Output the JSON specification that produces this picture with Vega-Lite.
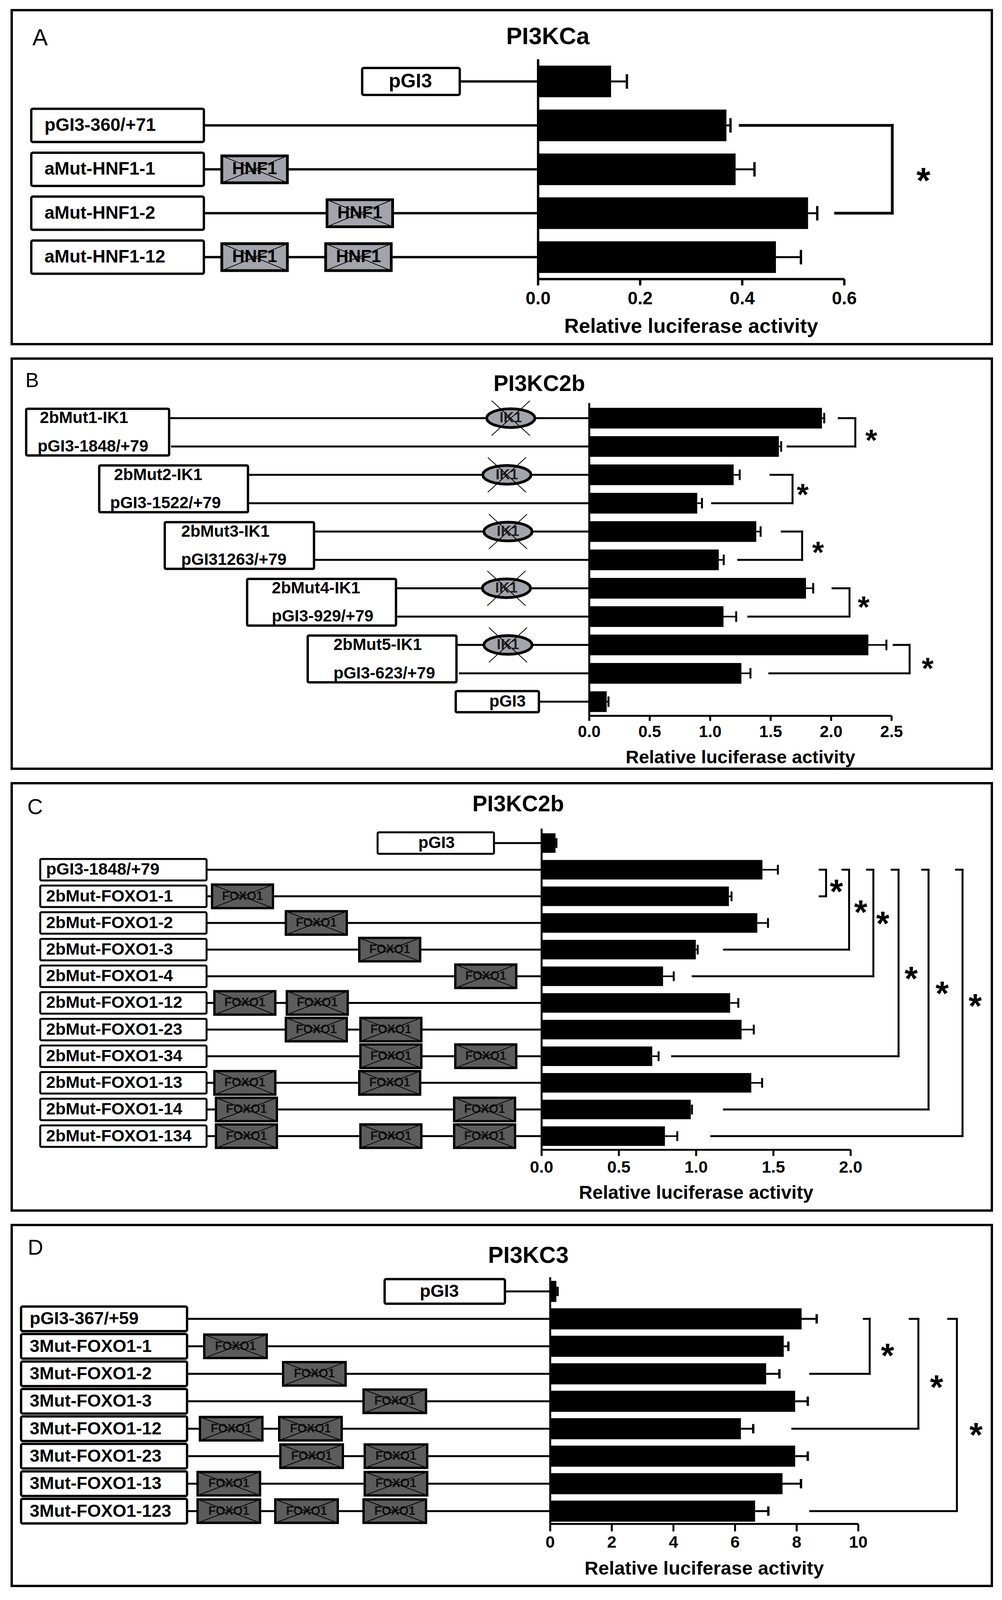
{
"$schema": "https://vega.github.io/schema/vega-lite/v6.json",
"background": "white",
"padding": {"left": 27, "top": 23, "right": 20, "bottom": 8},
"spacing": 31,
"config": {
  "view": {"stroke": "black", "strokeWidth": 6},
  "font": "Liberation Sans",
  "text": {"font": "Liberation Sans"}
},
"datasets": {
  "A_bars": [
    {"row": 1, "construct": "pGI3", "value": 0.143, "err_upper": 0.174},
    {"row": 2, "construct": "pGI3-360/+71", "value": 0.369, "err_upper": 0.377},
    {"row": 3, "construct": "aMut-HNF1-1", "value": 0.387, "err_upper": 0.424},
    {"row": 4, "construct": "aMut-HNF1-2", "value": 0.529, "err_upper": 0.547},
    {"row": 5, "construct": "aMut-HNF1-12", "value": 0.466, "err_upper": 0.515}
  ],
  "A_ticks": [{"tick": 0}, {"tick": 0.2}, {"tick": 0.4}, {"tick": 0.6}],
  "A_labels": [
    {"row": 1, "label": "pGI3", "box_start": -0.3447, "box_end": -0.1535, "text_x": -0.2502},
    {"row": 2, "label": "pGI3-360/+71", "box_start": -0.9931, "box_end": -0.6549, "text_x": -0.9671},
    {"row": 3, "label": "aMut-HNF1-1", "box_start": -0.9931, "box_end": -0.6549, "text_x": -0.9671},
    {"row": 4, "label": "aMut-HNF1-2", "box_start": -0.9931, "box_end": -0.6549, "text_x": -0.9671},
    {"row": 5, "label": "aMut-HNF1-12", "box_start": -0.9931, "box_end": -0.6549, "text_x": -0.9671}
  ],
  "A_sites": [
    {"row": 3, "site": "HNF1", "site_x": -0.5555},
    {"row": 4, "site": "HNF1", "site_x": -0.3493},
    {"row": 5, "site": "HNF1", "site_x": -0.5555},
    {"row": 5, "site": "HNF1", "site_x": -0.3520}
  ],
  "A_brackets": [
    {"top_row": 2, "bottom_row": 4, "top_start": 0.396, "bottom_start": 0.583, "bracket_x": 0.694}
  ],
  "A_stars": [{"star_x": 0.755, "star_row": 3.06}],
  "A_notes": [
    {"kind": "title", "note": "PI3KCa", "note_x": 0.0191, "note_row": -0.007},
    {"kind": "panel", "note": "A", "note_x": -0.9908, "note_row": 0.0143},
    {"kind": "axis title", "note": "Relative luciferase activity", "note_x": 0.3, "note_row": 6.579}
  ],
  "B_bars": [
    {"row": 1, "construct": "2bMut1-IK1", "value": 1.924, "err_upper": 1.943},
    {"row": 2, "construct": "pGI3-1848/+79", "value": 1.568, "err_upper": 1.587},
    {"row": 3, "construct": "2bMut2-IK1", "value": 1.194, "err_upper": 1.244},
    {"row": 4, "construct": "pGI3-1522/+79", "value": 0.893, "err_upper": 0.932},
    {"row": 5, "construct": "2bMut3-IK1", "value": 1.381, "err_upper": 1.417},
    {"row": 6, "construct": "pGI31263/+79", "value": 1.071, "err_upper": 1.112},
    {"row": 7, "construct": "2bMut4-IK1", "value": 1.792, "err_upper": 1.852},
    {"row": 8, "construct": "pGI3-929/+79", "value": 1.110, "err_upper": 1.215},
    {"row": 9, "construct": "2bMut5-IK1", "value": 2.308, "err_upper": 2.457},
    {"row": 10, "construct": "pGI3-623/+79", "value": 1.258, "err_upper": 1.333},
    {"row": 11, "construct": "pGI3", "value": 0.144, "err_upper": 0.159}
  ],
  "B_ticks": [{"tick": 0}, {"tick": 0.5}, {"tick": 1}, {"tick": 1.5}, {"tick": 2}, {"tick": 2.5}],
  "B_groups": [
    {"first_row": 1, "last_row": 2, "box_start": -4.656, "box_end": -3.474},
    {"first_row": 3, "last_row": 4, "box_start": -4.052, "box_end": -2.822},
    {"first_row": 5, "last_row": 6, "box_start": -3.510, "box_end": -2.276},
    {"first_row": 7, "last_row": 8, "box_start": -2.829, "box_end": -1.598},
    {"first_row": 9, "last_row": 10, "box_start": -2.328, "box_end": -1.098}
  ],
  "B_vector": [{"row": 11, "box_start": -1.104, "box_end": -0.4165}],
  "B_labels": [
    {"row": 1, "label": "2bMut1-IK1", "text_x": -4.543, "line_start": -3.474},
    {"row": 2, "label": "pGI3-1848/+79", "text_x": -4.562, "line_start": -3.458},
    {"row": 3, "label": "2bMut2-IK1", "text_x": -3.930, "line_start": -2.822},
    {"row": 4, "label": "pGI3-1522/+79", "text_x": -3.962, "line_start": -2.822},
    {"row": 5, "label": "2bMut3-IK1", "text_x": -3.374, "line_start": -2.276},
    {"row": 6, "label": "pGI31263/+79", "text_x": -3.374, "line_start": -2.276},
    {"row": 7, "label": "2bMut4-IK1", "text_x": -2.625, "line_start": -1.598},
    {"row": 8, "label": "pGI3-929/+79", "text_x": -2.625, "line_start": -1.598},
    {"row": 9, "label": "2bMut5-IK1", "text_x": -2.115, "line_start": -1.098},
    {"row": 10, "label": "pGI3-623/+79", "text_x": -2.115, "line_start": -1.078},
    {"row": 11, "label": "pGI3", "text_x": -0.8266, "line_start": -0.4165}
  ],
  "B_sites": [
    {"row": 1, "site": "IK1", "site_x": -0.649},
    {"row": 3, "site": "IK1", "site_x": -0.681},
    {"row": 5, "site": "IK1", "site_x": -0.672},
    {"row": 7, "site": "IK1", "site_x": -0.685},
    {"row": 9, "site": "IK1", "site_x": -0.672}
  ],
  "B_brackets": [
    {"top_row": 1, "bottom_row": 2, "top_start": 2.063, "bottom_start": 1.640, "bracket_x": 2.200},
    {"top_row": 3, "bottom_row": 4, "top_start": 1.499, "bottom_start": 1.016, "bracket_x": 1.681},
    {"top_row": 5, "bottom_row": 6, "top_start": 1.592, "bottom_start": 1.232, "bracket_x": 1.760},
    {"top_row": 7, "bottom_row": 8, "top_start": 2.012, "bottom_start": 1.316, "bracket_x": 2.152},
    {"top_row": 9, "bottom_row": 10, "top_start": 2.517, "bottom_start": 1.489, "bracket_x": 2.649}
  ],
  "B_stars": [
    {"star_x": 2.332, "star_row": 1.52},
    {"star_x": 1.765, "star_row": 3.43},
    {"star_x": 1.892, "star_row": 5.47},
    {"star_x": 2.269, "star_row": 7.40},
    {"star_x": 2.798, "star_row": 9.57}
  ],
  "B_notes": [
    {"kind": "title", "note": "PI3KC2b", "note_x": -0.4133, "note_row": -0.1876},
    {"kind": "panel", "note": "B", "note_x": -4.6626, "note_row": -0.321},
    {"kind": "axis title", "note": "Relative luciferase activity", "note_x": 1.25, "note_row": 12.987}
  ],
  "C_bars": [
    {"row": 1, "construct": "pGI3", "value": 0.090, "err_upper": 0.096},
    {"row": 2, "construct": "pGI3-1848/+79", "value": 1.429, "err_upper": 1.529},
    {"row": 3, "construct": "2bMut-FOXO1-1", "value": 1.212, "err_upper": 1.229},
    {"row": 4, "construct": "2bMut-FOXO1-2", "value": 1.396, "err_upper": 1.465},
    {"row": 5, "construct": "2bMut-FOXO1-3", "value": 0.998, "err_upper": 1.010},
    {"row": 6, "construct": "2bMut-FOXO1-4", "value": 0.786, "err_upper": 0.855},
    {"row": 7, "construct": "2bMut-FOXO1-12", "value": 1.220, "err_upper": 1.273},
    {"row": 8, "construct": "2bMut-FOXO1-23", "value": 1.294, "err_upper": 1.373},
    {"row": 9, "construct": "2bMut-FOXO1-34", "value": 0.716, "err_upper": 0.757},
    {"row": 10, "construct": "2bMut-FOXO1-13", "value": 1.357, "err_upper": 1.427},
    {"row": 11, "construct": "2bMut-FOXO1-14", "value": 0.965, "err_upper": 0.973},
    {"row": 12, "construct": "2bMut-FOXO1-134", "value": 0.798, "err_upper": 0.878}
  ],
  "C_ticks": [{"tick": 0}, {"tick": 0.5}, {"tick": 1}, {"tick": 1.5}, {"tick": 2}],
  "C_labels": [
    {"row": 1, "label": "pGI3", "box_start": -1.0614, "box_end": -0.3083, "text_x": -0.6798},
    {"row": 2, "label": "pGI3-1848/+79", "box_start": -3.2449, "box_end": -2.1683, "text_x": -3.207},
    {"row": 3, "label": "2bMut-FOXO1-1", "box_start": -3.2449, "box_end": -2.1683, "text_x": -3.207},
    {"row": 4, "label": "2bMut-FOXO1-2", "box_start": -3.2449, "box_end": -2.1683, "text_x": -3.207},
    {"row": 5, "label": "2bMut-FOXO1-3", "box_start": -3.2449, "box_end": -2.1683, "text_x": -3.207},
    {"row": 6, "label": "2bMut-FOXO1-4", "box_start": -3.2449, "box_end": -2.1683, "text_x": -3.207},
    {"row": 7, "label": "2bMut-FOXO1-12", "box_start": -3.2449, "box_end": -2.1683, "text_x": -3.207},
    {"row": 8, "label": "2bMut-FOXO1-23", "box_start": -3.2449, "box_end": -2.1683, "text_x": -3.207},
    {"row": 9, "label": "2bMut-FOXO1-34", "box_start": -3.2449, "box_end": -2.1683, "text_x": -3.207},
    {"row": 10, "label": "2bMut-FOXO1-13", "box_start": -3.2449, "box_end": -2.1683, "text_x": -3.207},
    {"row": 11, "label": "2bMut-FOXO1-14", "box_start": -3.2449, "box_end": -2.1683, "text_x": -3.207},
    {"row": 12, "label": "2bMut-FOXO1-134", "box_start": -3.2449, "box_end": -2.1683, "text_x": -3.207}
  ],
  "C_sites": [
    {"row": 3, "site": "FOXO1", "site_x": -1.9358},
    {"row": 4, "site": "FOXO1", "site_x": -1.4582},
    {"row": 5, "site": "FOXO1", "site_x": -0.9831},
    {"row": 6, "site": "FOXO1", "site_x": -0.3614},
    {"row": 7, "site": "FOXO1", "site_x": -1.9206},
    {"row": 7, "site": "FOXO1", "site_x": -1.4519},
    {"row": 8, "site": "FOXO1", "site_x": -1.4582},
    {"row": 8, "site": "FOXO1", "site_x": -0.9755},
    {"row": 9, "site": "FOXO1", "site_x": -0.9755},
    {"row": 9, "site": "FOXO1", "site_x": -0.3614},
    {"row": 10, "site": "FOXO1", "site_x": -1.9206},
    {"row": 10, "site": "FOXO1", "site_x": -0.9831},
    {"row": 11, "site": "FOXO1", "site_x": -1.9105},
    {"row": 11, "site": "FOXO1", "site_x": -0.369},
    {"row": 12, "site": "FOXO1", "site_x": -1.9105},
    {"row": 12, "site": "FOXO1", "site_x": -0.9755},
    {"row": 12, "site": "FOXO1", "site_x": -0.369}
  ],
  "C_brackets": [
    {"top_row": 2, "bottom_row": 3, "top_start": 1.800, "bottom_start": 1.800, "bracket_x": 1.841},
    {"top_row": 2, "bottom_row": 5, "top_start": 1.947, "bottom_start": 1.180, "bracket_x": 1.990},
    {"top_row": 2, "bottom_row": 6, "top_start": 2.106, "bottom_start": 0.978, "bracket_x": 2.147},
    {"top_row": 2, "bottom_row": 9, "top_start": 2.265, "bottom_start": 0.845, "bracket_x": 2.310},
    {"top_row": 2, "bottom_row": 11, "top_start": 2.463, "bottom_start": 1.180, "bracket_x": 2.504},
    {"top_row": 2, "bottom_row": 12, "top_start": 2.682, "bottom_start": 1.098, "bracket_x": 2.724}
  ],
  "C_stars": [
    {"star_x": 1.908, "star_row": 2.51},
    {"star_x": 2.065, "star_row": 3.28},
    {"star_x": 2.208, "star_row": 3.71},
    {"star_x": 2.392, "star_row": 5.77},
    {"star_x": 2.592, "star_row": 6.34},
    {"star_x": 2.806, "star_row": 6.80}
  ],
  "C_notes": [
    {"kind": "title", "note": "PI3KC2b", "note_x": -0.1516, "note_row": -0.4404},
    {"kind": "panel", "note": "C", "note_x": -3.3283, "note_row": -0.334},
    {"kind": "axis title", "note": "Relative luciferase activity", "note_x": 1.0, "note_row": 14.14}
  ],
  "D_bars": [
    {"row": 1, "construct": "pGI3", "value": 0.20, "err_upper": 0.24},
    {"row": 2, "construct": "pGI3-367/+59", "value": 8.16, "err_upper": 8.65},
    {"row": 3, "construct": "3Mut-FOXO1-1", "value": 7.58, "err_upper": 7.73},
    {"row": 4, "construct": "3Mut-FOXO1-2", "value": 7.01, "err_upper": 7.44},
    {"row": 5, "construct": "3Mut-FOXO1-3", "value": 7.95, "err_upper": 8.36},
    {"row": 6, "construct": "3Mut-FOXO1-12", "value": 6.19, "err_upper": 6.59},
    {"row": 7, "construct": "3Mut-FOXO1-23", "value": 7.95, "err_upper": 8.36},
    {"row": 8, "construct": "3Mut-FOXO1-13", "value": 7.54, "err_upper": 8.14},
    {"row": 9, "construct": "3Mut-FOXO1-123", "value": 6.65, "err_upper": 7.08}
  ],
  "D_ticks": [{"tick": 0}, {"tick": 2}, {"tick": 4}, {"tick": 6}, {"tick": 8}, {"tick": 10}],
  "D_labels": [
    {"row": 1, "label": "pGI3", "box_start": -5.374, "box_end": -1.470, "text_x": -3.600},
    {"row": 2, "label": "pGI3-367/+59", "box_start": -17.174, "box_end": -11.787, "text_x": -16.895},
    {"row": 3, "label": "3Mut-FOXO1-1", "box_start": -17.174, "box_end": -11.787, "text_x": -16.895},
    {"row": 4, "label": "3Mut-FOXO1-2", "box_start": -17.174, "box_end": -11.787, "text_x": -16.895},
    {"row": 5, "label": "3Mut-FOXO1-3", "box_start": -17.174, "box_end": -11.787, "text_x": -16.895},
    {"row": 6, "label": "3Mut-FOXO1-12", "box_start": -17.174, "box_end": -11.787, "text_x": -16.895},
    {"row": 7, "label": "3Mut-FOXO1-23", "box_start": -17.174, "box_end": -11.787, "text_x": -16.895},
    {"row": 8, "label": "3Mut-FOXO1-13", "box_start": -17.174, "box_end": -11.787, "text_x": -16.895},
    {"row": 9, "label": "3Mut-FOXO1-123", "box_start": -17.174, "box_end": -11.787, "text_x": -16.895}
  ],
  "D_sites": [
    {"row": 3, "site": "FOXO1", "site_x": -10.215},
    {"row": 4, "site": "FOXO1", "site_x": -7.655},
    {"row": 5, "site": "FOXO1", "site_x": -5.044},
    {"row": 6, "site": "FOXO1", "site_x": -10.355},
    {"row": 6, "site": "FOXO1", "site_x": -7.782},
    {"row": 7, "site": "FOXO1", "site_x": -7.744},
    {"row": 7, "site": "FOXO1", "site_x": -5.006},
    {"row": 8, "site": "FOXO1", "site_x": -10.431},
    {"row": 8, "site": "FOXO1", "site_x": -5.006},
    {"row": 9, "site": "FOXO1", "site_x": -10.431},
    {"row": 9, "site": "FOXO1", "site_x": -7.909},
    {"row": 9, "site": "FOXO1", "site_x": -5.044}
  ],
  "D_brackets": [
    {"top_row": 2, "bottom_row": 4, "top_start": 10.18, "bottom_start": 8.44, "bracket_x": 10.37},
    {"top_row": 2, "bottom_row": 6, "top_start": 11.67, "bottom_start": 7.86, "bracket_x": 11.95},
    {"top_row": 2, "bottom_row": 9, "top_start": 12.92, "bottom_start": 8.44, "bracket_x": 13.20}
  ],
  "D_stars": [
    {"star_x": 10.95, "star_row": 3.04},
    {"star_x": 12.54, "star_row": 4.19},
    {"star_x": 13.82, "star_row": 5.92}
  ],
  "D_notes": [
    {"kind": "title", "note": "PI3KC3", "note_x": -0.7098, "note_row": -0.293},
    {"kind": "panel", "note": "D", "note_x": -16.958, "note_row": -0.579},
    {"kind": "axis title", "note": "Relative luciferase activity", "note_x": 5, "note_row": 11.103}
  ]
},
"vconcat": [
{
  "width": 2510, "height": 855,
  "layer": [
    {"data": {"name": "A_labels"}, "mark": {"type": "rule", "strokeWidth": 6, "color": "black"},
     "encoding": {"x": {"field": "box_end", "type": "quantitative", "scale": {"domain": [-1.0314, 0.8891], "nice": false, "zero": false}, "axis": null}, "x2": {"datum": 0}, "y": {"field": "row", "type": "quantitative", "scale": {"domain": [-0.5786, 6.9357], "reverse": true, "nice": false, "zero": false}, "axis": null}}},
    {"data": {"name": "A_labels"}, "transform": [{"filter": "datum.label !== 'pGI3'"}], "mark": {"type": "bar", "orient": "horizontal", "size": 85, "fill": "white", "stroke": "black", "strokeWidth": 6, "cornerRadius": 4},
     "encoding": {"x": {"field": "box_start", "type": "quantitative", "scale": {"domain": [-1.0314, 0.8891], "nice": false, "zero": false}, "axis": null}, "x2": {"field": "box_end"}, "y": {"field": "row", "type": "quantitative", "scale": {"domain": [-0.5786, 6.9357], "reverse": true, "nice": false, "zero": false}, "axis": null}}},
    {"data": {"name": "A_labels"}, "transform": [{"filter": "datum.label === 'pGI3'"}], "mark": {"type": "bar", "orient": "horizontal", "size": 69, "fill": "white", "stroke": "black", "strokeWidth": 6, "cornerRadius": 4},
     "encoding": {"x": {"field": "box_start", "type": "quantitative", "scale": {"domain": [-1.0314, 0.8891], "nice": false, "zero": false}, "axis": null}, "x2": {"field": "box_end"}, "y": {"field": "row", "type": "quantitative", "scale": {"domain": [-0.5786, 6.9357], "reverse": true, "nice": false, "zero": false}, "axis": null}}},
    {"data": {"name": "A_labels"}, "transform": [{"filter": "datum.label !== 'pGI3'"}], "mark": {"type": "text", "align": "left", "baseline": "middle", "fontSize": 46, "fontWeight": "bold", "color": "black"},
     "encoding": {"x": {"field": "text_x", "type": "quantitative", "scale": {"domain": [-1.0314, 0.8891], "nice": false, "zero": false}, "axis": null}, "y": {"field": "row", "type": "quantitative", "scale": {"domain": [-0.5786, 6.9357], "reverse": true, "nice": false, "zero": false}, "axis": null}, "text": {"field": "label"}}},
    {"data": {"name": "A_labels"}, "transform": [{"filter": "datum.label === 'pGI3'"}], "mark": {"type": "text", "align": "center", "baseline": "middle", "fontSize": 50, "fontWeight": "bold", "color": "black"},
     "encoding": {"x": {"field": "text_x", "type": "quantitative", "scale": {"domain": [-1.0314, 0.8891], "nice": false, "zero": false}, "axis": null}, "y": {"field": "row", "type": "quantitative", "scale": {"domain": [-0.5786, 6.9357], "reverse": true, "nice": false, "zero": false}, "axis": null}, "text": {"field": "label"}}},
    {"data": {"name": "A_sites"}, "mark": {"type": "point", "shape": "M-1,-0.411L1,-0.411L1,0.411L-1,0.411Z", "size": 28224, "filled": true, "fill": "#a4a4ac", "stroke": "black", "strokeWidth": 7, "opacity": 1},
     "encoding": {"x": {"field": "site_x", "type": "quantitative", "scale": {"domain": [-1.0314, 0.8891], "nice": false, "zero": false}, "axis": null}, "y": {"field": "row", "type": "quantitative", "scale": {"domain": [-0.5786, 6.9357], "reverse": true, "nice": false, "zero": false}, "axis": null}}},
    {"data": {"name": "A_sites"}, "mark": {"type": "text", "align": "center", "baseline": "middle", "fontSize": 44, "fontWeight": "bold", "color": "black"},
     "encoding": {"x": {"field": "site_x", "type": "quantitative", "scale": {"domain": [-1.0314, 0.8891], "nice": false, "zero": false}, "axis": null}, "y": {"field": "row", "type": "quantitative", "scale": {"domain": [-0.5786, 6.9357], "reverse": true, "nice": false, "zero": false}, "axis": null}, "text": {"field": "site"}}},
    {"data": {"name": "A_sites"}, "mark": {"type": "point", "shape": "M-1,-0.411L1,0.411M-1,0.411L1,-0.411", "size": 28224, "filled": false, "stroke": "black", "strokeWidth": 2, "opacity": 1},
     "encoding": {"x": {"field": "site_x", "type": "quantitative", "scale": {"domain": [-1.0314, 0.8891], "nice": false, "zero": false}, "axis": null}, "y": {"field": "row", "type": "quantitative", "scale": {"domain": [-0.5786, 6.9357], "reverse": true, "nice": false, "zero": false}, "axis": null}}},
    {"data": {"values": [{}]}, "mark": {"type": "rule", "strokeWidth": 6, "color": "black"},
     "encoding": {"x": {"datum": 0, "type": "quantitative", "scale": {"domain": [-1.0314, 0.8891], "nice": false, "zero": false}, "axis": null}, "y": {"datum": 0.493, "type": "quantitative", "scale": {"domain": [-0.5786, 6.9357], "reverse": true, "nice": false, "zero": false}, "axis": null}, "y2": {"datum": 5.5}}},
    {"data": {"values": [{}]}, "mark": {"type": "rule", "strokeWidth": 6, "color": "black"},
     "encoding": {"x": {"datum": 0, "type": "quantitative", "scale": {"domain": [-1.0314, 0.8891], "nice": false, "zero": false}, "axis": null}, "x2": {"datum": 0.6}, "y": {"datum": 5.5, "type": "quantitative", "scale": {"domain": [-0.5786, 6.9357], "reverse": true, "nice": false, "zero": false}, "axis": null}}},
    {"data": {"name": "A_ticks"}, "mark": {"type": "tick", "orient": "vertical", "size": 16, "thickness": 6, "yOffset": 8, "color": "black", "opacity": 1},
     "encoding": {"x": {"field": "tick", "type": "quantitative", "scale": {"domain": [-1.0314, 0.8891], "nice": false, "zero": false}, "axis": null}, "y": {"datum": 5.5, "type": "quantitative", "scale": {"domain": [-0.5786, 6.9357], "reverse": true, "nice": false, "zero": false}, "axis": null}}},
    {"data": {"name": "A_ticks"}, "mark": {"type": "text", "align": "center", "baseline": "middle", "dy": 50, "fontSize": 46, "fontWeight": "bold", "color": "black"},
     "encoding": {"x": {"field": "tick", "type": "quantitative", "scale": {"domain": [-1.0314, 0.8891], "nice": false, "zero": false}, "axis": null}, "y": {"datum": 5.5, "type": "quantitative", "scale": {"domain": [-0.5786, 6.9357], "reverse": true, "nice": false, "zero": false}, "axis": null}, "text": {"field": "tick", "type": "quantitative", "format": ".1f"}}},
    {"data": {"name": "A_bars"}, "mark": {"type": "bar", "orient": "horizontal", "size": 81, "color": "black"},
     "encoding": {"x": {"field": "value", "type": "quantitative", "stack": null, "scale": {"domain": [-1.0314, 0.8891], "nice": false, "zero": false}, "axis": null}, "y": {"field": "row", "type": "quantitative", "scale": {"domain": [-0.5786, 6.9357], "reverse": true, "nice": false, "zero": false}, "axis": null}}},
    {"data": {"name": "A_bars"}, "mark": {"type": "rule", "strokeWidth": 5, "color": "black"},
     "encoding": {"x": {"field": "value", "type": "quantitative", "scale": {"domain": [-1.0314, 0.8891], "nice": false, "zero": false}, "axis": null}, "x2": {"field": "err_upper"}, "y": {"field": "row", "type": "quantitative", "scale": {"domain": [-0.5786, 6.9357], "reverse": true, "nice": false, "zero": false}, "axis": null}}},
    {"data": {"name": "A_bars"}, "mark": {"type": "tick", "orient": "vertical", "size": 37, "thickness": 6, "color": "black", "opacity": 1},
     "encoding": {"x": {"field": "err_upper", "type": "quantitative", "scale": {"domain": [-1.0314, 0.8891], "nice": false, "zero": false}, "axis": null}, "y": {"field": "row", "type": "quantitative", "scale": {"domain": [-0.5786, 6.9357], "reverse": true, "nice": false, "zero": false}, "axis": null}}},
    {"data": {"name": "A_brackets"}, "mark": {"type": "rule", "strokeWidth": 7, "color": "black", "strokeCap": "square"},
     "encoding": {"x": {"field": "top_start", "type": "quantitative", "scale": {"domain": [-1.0314, 0.8891], "nice": false, "zero": false}, "axis": null}, "x2": {"field": "bracket_x"}, "y": {"field": "top_row", "type": "quantitative", "scale": {"domain": [-0.5786, 6.9357], "reverse": true, "nice": false, "zero": false}, "axis": null}}},
    {"data": {"name": "A_brackets"}, "mark": {"type": "rule", "strokeWidth": 7, "color": "black", "strokeCap": "square"},
     "encoding": {"x": {"field": "bracket_x", "type": "quantitative", "scale": {"domain": [-1.0314, 0.8891], "nice": false, "zero": false}, "axis": null}, "y": {"field": "top_row", "type": "quantitative", "scale": {"domain": [-0.5786, 6.9357], "reverse": true, "nice": false, "zero": false}, "axis": null}, "y2": {"field": "bottom_row"}}},
    {"data": {"name": "A_brackets"}, "mark": {"type": "rule", "strokeWidth": 7, "color": "black", "strokeCap": "square"},
     "encoding": {"x": {"field": "bottom_start", "type": "quantitative", "scale": {"domain": [-1.0314, 0.8891], "nice": false, "zero": false}, "axis": null}, "x2": {"field": "bracket_x"}, "y": {"field": "bottom_row", "type": "quantitative", "scale": {"domain": [-0.5786, 6.9357], "reverse": true, "nice": false, "zero": false}, "axis": null}}},
    {"data": {"name": "A_stars"}, "mark": {"type": "text", "text": "*", "align": "center", "baseline": "alphabetic", "dy": 54, "fontSize": 92, "fontWeight": "bold", "color": "black"},
     "encoding": {"x": {"field": "star_x", "type": "quantitative", "scale": {"domain": [-1.0314, 0.8891], "nice": false, "zero": false}, "axis": null}, "y": {"field": "star_row", "type": "quantitative", "scale": {"domain": [-0.5786, 6.9357], "reverse": true, "nice": false, "zero": false}, "axis": null}}},
    {"data": {"name": "A_notes"}, "transform": [{"filter": "datum.kind === 'title'"}], "mark": {"type": "text", "align": "center", "baseline": "middle", "fontSize": 61, "fontWeight": "bold", "color": "black"},
     "encoding": {"x": {"field": "note_x", "type": "quantitative", "scale": {"domain": [-1.0314, 0.8891], "nice": false, "zero": false}, "axis": null}, "y": {"field": "note_row", "type": "quantitative", "scale": {"domain": [-0.5786, 6.9357], "reverse": true, "nice": false, "zero": false}, "axis": null}, "text": {"field": "note"}}},
    {"data": {"name": "A_notes"}, "transform": [{"filter": "datum.kind === 'panel'"}], "mark": {"type": "text", "align": "left", "baseline": "middle", "fontSize": 59, "fontWeight": "normal", "color": "black"},
     "encoding": {"x": {"field": "note_x", "type": "quantitative", "scale": {"domain": [-1.0314, 0.8891], "nice": false, "zero": false}, "axis": null}, "y": {"field": "note_row", "type": "quantitative", "scale": {"domain": [-0.5786, 6.9357], "reverse": true, "nice": false, "zero": false}, "axis": null}, "text": {"field": "note"}}},
    {"data": {"name": "A_notes"}, "transform": [{"filter": "datum.kind === 'axis title'"}], "mark": {"type": "text", "align": "center", "baseline": "middle", "fontSize": 52, "fontWeight": "bold", "color": "black"},
     "encoding": {"x": {"field": "note_x", "type": "quantitative", "scale": {"domain": [-1.0314, 0.8891], "nice": false, "zero": false}, "axis": null}, "y": {"field": "note_row", "type": "quantitative", "scale": {"domain": [-0.5786, 6.9357], "reverse": true, "nice": false, "zero": false}, "axis": null}, "text": {"field": "note"}}}
  ]
},
{
  "width": 2510, "height": 1050,
  "layer": [
    {"data": {"name": "B_labels"}, "mark": {"type": "rule", "strokeWidth": 5, "color": "black"},
     "encoding": {"x": {"field": "line_start", "type": "quantitative", "scale": {"domain": [-4.7756, 3.329], "nice": false, "zero": false}, "axis": null}, "x2": {"datum": 0}, "y": {"field": "row", "type": "quantitative", "scale": {"domain": [-1.0311, 13.2975], "reverse": true, "nice": false, "zero": false}, "axis": null}}},
    {"data": {"name": "B_groups"}, "mark": {"type": "rect", "fill": "white", "stroke": "black", "strokeWidth": 6, "cornerRadius": 3, "yOffset": -24, "y2Offset": 23},
     "encoding": {"x": {"field": "box_start", "type": "quantitative", "scale": {"domain": [-4.7756, 3.329], "nice": false, "zero": false}, "axis": null}, "x2": {"field": "box_end"}, "y": {"field": "first_row", "type": "quantitative", "scale": {"domain": [-1.0311, 13.2975], "reverse": true, "nice": false, "zero": false}, "axis": null}, "y2": {"field": "last_row"}}},
    {"data": {"name": "B_vector"}, "mark": {"type": "bar", "orient": "horizontal", "size": 54, "fill": "white", "stroke": "black", "strokeWidth": 6, "cornerRadius": 3},
     "encoding": {"x": {"field": "box_start", "type": "quantitative", "scale": {"domain": [-4.7756, 3.329], "nice": false, "zero": false}, "axis": null}, "x2": {"field": "box_end"}, "y": {"field": "row", "type": "quantitative", "scale": {"domain": [-1.0311, 13.2975], "reverse": true, "nice": false, "zero": false}, "axis": null}}},
    {"data": {"name": "B_labels"}, "mark": {"type": "text", "align": "left", "baseline": "middle", "fontSize": 42, "fontWeight": "bold", "color": "black"},
     "encoding": {"x": {"field": "text_x", "type": "quantitative", "scale": {"domain": [-4.7756, 3.329], "nice": false, "zero": false}, "axis": null}, "y": {"field": "row", "type": "quantitative", "scale": {"domain": [-1.0311, 13.2975], "reverse": true, "nice": false, "zero": false}, "axis": null}, "text": {"field": "label"}}},
    {"data": {"name": "B_sites"}, "mark": {"type": "point", "shape": "M1,0L0.966,0.1L0.866,0.194L0.707,0.274L0.5,0.335L0.259,0.374L0,0.387L-0.259,0.374L-0.5,0.335L-0.707,0.274L-0.866,0.194L-0.966,0.1L-1,0L-0.966,-0.1L-0.866,-0.194L-0.707,-0.274L-0.5,-0.335L-0.259,-0.374L0,-0.387L0.259,-0.374L0.5,-0.335L0.707,-0.274L0.866,-0.194L0.966,-0.1Z", "size": 15376, "filled": true, "fill": "#a4a4ac", "stroke": "black", "strokeWidth": 7, "opacity": 1},
     "encoding": {"x": {"field": "site_x", "type": "quantitative", "scale": {"domain": [-4.7756, 3.329], "nice": false, "zero": false}, "axis": null}, "y": {"field": "row", "type": "quantitative", "scale": {"domain": [-1.0311, 13.2975], "reverse": true, "nice": false, "zero": false}, "axis": null}}},
    {"data": {"name": "B_sites"}, "mark": {"type": "text", "align": "center", "baseline": "middle", "fontSize": 37, "fontWeight": "bold", "color": "#222222"},
     "encoding": {"x": {"field": "site_x", "type": "quantitative", "scale": {"domain": [-4.7756, 3.329], "nice": false, "zero": false}, "axis": null}, "y": {"field": "row", "type": "quantitative", "scale": {"domain": [-1.0311, 13.2975], "reverse": true, "nice": false, "zero": false}, "axis": null}, "text": {"field": "site"}}},
    {"data": {"name": "B_sites"}, "mark": {"type": "point", "shape": "M-1,-0.908L1,0.908M-1,0.908L1,-0.908", "size": 9604, "filled": false, "stroke": "black", "strokeWidth": 2, "opacity": 1},
     "encoding": {"x": {"field": "site_x", "type": "quantitative", "scale": {"domain": [-4.7756, 3.329], "nice": false, "zero": false}, "axis": null}, "y": {"field": "row", "type": "quantitative", "scale": {"domain": [-1.0311, 13.2975], "reverse": true, "nice": false, "zero": false}, "axis": null}}},
    {"data": {"values": [{}]}, "mark": {"type": "rule", "strokeWidth": 5, "color": "black"},
     "encoding": {"x": {"datum": 0, "type": "quantitative", "scale": {"domain": [-4.7756, 3.329], "nice": false, "zero": false}, "axis": null}, "y": {"datum": 0.4673, "type": "quantitative", "scale": {"domain": [-1.0311, 13.2975], "reverse": true, "nice": false, "zero": false}, "axis": null}, "y2": {"datum": 11.4994}}},
    {"data": {"values": [{}]}, "mark": {"type": "rule", "strokeWidth": 5, "color": "black"},
     "encoding": {"x": {"datum": 0, "type": "quantitative", "scale": {"domain": [-4.7756, 3.329], "nice": false, "zero": false}, "axis": null}, "x2": {"datum": 2.5}, "y": {"datum": 11.4994, "type": "quantitative", "scale": {"domain": [-1.0311, 13.2975], "reverse": true, "nice": false, "zero": false}, "axis": null}}},
    {"data": {"name": "B_ticks"}, "mark": {"type": "tick", "orient": "vertical", "size": 13, "thickness": 5, "yOffset": 6.5, "color": "black", "opacity": 1},
     "encoding": {"x": {"field": "tick", "type": "quantitative", "scale": {"domain": [-4.7756, 3.329], "nice": false, "zero": false}, "axis": null}, "y": {"datum": 11.4994, "type": "quantitative", "scale": {"domain": [-1.0311, 13.2975], "reverse": true, "nice": false, "zero": false}, "axis": null}}},
    {"data": {"name": "B_ticks"}, "mark": {"type": "text", "align": "center", "baseline": "middle", "dy": 42, "fontSize": 42, "fontWeight": "bold", "color": "black"},
     "encoding": {"x": {"field": "tick", "type": "quantitative", "scale": {"domain": [-4.7756, 3.329], "nice": false, "zero": false}, "axis": null}, "y": {"datum": 11.4994, "type": "quantitative", "scale": {"domain": [-1.0311, 13.2975], "reverse": true, "nice": false, "zero": false}, "axis": null}, "text": {"field": "tick", "type": "quantitative", "format": ".1f"}}},
    {"data": {"name": "B_bars"}, "mark": {"type": "bar", "orient": "horizontal", "size": 53, "color": "black"},
     "encoding": {"x": {"field": "value", "type": "quantitative", "stack": null, "scale": {"domain": [-4.7756, 3.329], "nice": false, "zero": false}, "axis": null}, "y": {"field": "row", "type": "quantitative", "scale": {"domain": [-1.0311, 13.2975], "reverse": true, "nice": false, "zero": false}, "axis": null}}},
    {"data": {"name": "B_bars"}, "mark": {"type": "rule", "strokeWidth": 4, "color": "black"},
     "encoding": {"x": {"field": "value", "type": "quantitative", "scale": {"domain": [-4.7756, 3.329], "nice": false, "zero": false}, "axis": null}, "x2": {"field": "err_upper"}, "y": {"field": "row", "type": "quantitative", "scale": {"domain": [-1.0311, 13.2975], "reverse": true, "nice": false, "zero": false}, "axis": null}}},
    {"data": {"name": "B_bars"}, "mark": {"type": "tick", "orient": "vertical", "size": 27, "thickness": 5, "color": "black", "opacity": 1},
     "encoding": {"x": {"field": "err_upper", "type": "quantitative", "scale": {"domain": [-4.7756, 3.329], "nice": false, "zero": false}, "axis": null}, "y": {"field": "row", "type": "quantitative", "scale": {"domain": [-1.0311, 13.2975], "reverse": true, "nice": false, "zero": false}, "axis": null}}},
    {"data": {"name": "B_brackets"}, "mark": {"type": "rule", "strokeWidth": 5, "color": "black", "strokeCap": "square"},
     "encoding": {"x": {"field": "top_start", "type": "quantitative", "scale": {"domain": [-4.7756, 3.329], "nice": false, "zero": false}, "axis": null}, "x2": {"field": "bracket_x"}, "y": {"field": "top_row", "type": "quantitative", "scale": {"domain": [-1.0311, 13.2975], "reverse": true, "nice": false, "zero": false}, "axis": null}}},
    {"data": {"name": "B_brackets"}, "mark": {"type": "rule", "strokeWidth": 5, "color": "black", "strokeCap": "square"},
     "encoding": {"x": {"field": "bracket_x", "type": "quantitative", "scale": {"domain": [-4.7756, 3.329], "nice": false, "zero": false}, "axis": null}, "y": {"field": "top_row", "type": "quantitative", "scale": {"domain": [-1.0311, 13.2975], "reverse": true, "nice": false, "zero": false}, "axis": null}, "y2": {"field": "bottom_row"}}},
    {"data": {"name": "B_brackets"}, "mark": {"type": "rule", "strokeWidth": 5, "color": "black", "strokeCap": "square"},
     "encoding": {"x": {"field": "bottom_start", "type": "quantitative", "scale": {"domain": [-4.7756, 3.329], "nice": false, "zero": false}, "axis": null}, "x2": {"field": "bracket_x"}, "y": {"field": "bottom_row", "type": "quantitative", "scale": {"domain": [-1.0311, 13.2975], "reverse": true, "nice": false, "zero": false}, "axis": null}}},
    {"data": {"name": "B_stars"}, "mark": {"type": "text", "text": "*", "align": "center", "baseline": "alphabetic", "dy": 46, "fontSize": 78, "fontWeight": "bold", "color": "black"},
     "encoding": {"x": {"field": "star_x", "type": "quantitative", "scale": {"domain": [-4.7756, 3.329], "nice": false, "zero": false}, "axis": null}, "y": {"field": "star_row", "type": "quantitative", "scale": {"domain": [-1.0311, 13.2975], "reverse": true, "nice": false, "zero": false}, "axis": null}}},
    {"data": {"name": "B_notes"}, "transform": [{"filter": "datum.kind === 'title'"}], "mark": {"type": "text", "align": "center", "baseline": "middle", "fontSize": 57, "fontWeight": "bold", "color": "black"},
     "encoding": {"x": {"field": "note_x", "type": "quantitative", "scale": {"domain": [-4.7756, 3.329], "nice": false, "zero": false}, "axis": null}, "y": {"field": "note_row", "type": "quantitative", "scale": {"domain": [-1.0311, 13.2975], "reverse": true, "nice": false, "zero": false}, "axis": null}, "text": {"field": "note"}}},
    {"data": {"name": "B_notes"}, "transform": [{"filter": "datum.kind === 'panel'"}], "mark": {"type": "text", "align": "left", "baseline": "middle", "fontSize": 52, "fontWeight": "normal", "color": "black"},
     "encoding": {"x": {"field": "note_x", "type": "quantitative", "scale": {"domain": [-4.7756, 3.329], "nice": false, "zero": false}, "axis": null}, "y": {"field": "note_row", "type": "quantitative", "scale": {"domain": [-1.0311, 13.2975], "reverse": true, "nice": false, "zero": false}, "axis": null}, "text": {"field": "note"}}},
    {"data": {"name": "B_notes"}, "transform": [{"filter": "datum.kind === 'axis title'"}], "mark": {"type": "text", "align": "center", "baseline": "middle", "fontSize": 47, "fontWeight": "bold", "color": "black"},
     "encoding": {"x": {"field": "note_x", "type": "quantitative", "scale": {"domain": [-4.7756, 3.329], "nice": false, "zero": false}, "axis": null}, "y": {"field": "note_row", "type": "quantitative", "scale": {"domain": [-1.0311, 13.2975], "reverse": true, "nice": false, "zero": false}, "axis": null}, "text": {"field": "note"}}}
  ]
},
{
  "width": 2510, "height": 1094,
  "layer": [
    {"data": {"name": "C_labels"}, "mark": {"type": "rule", "strokeWidth": 5, "color": "black"},
     "encoding": {"x": {"field": "box_end", "type": "quantitative", "scale": {"domain": [-3.4294, 2.9138], "nice": false, "zero": false}, "axis": null}, "x2": {"datum": 0}, "y": {"field": "row", "type": "quantitative", "scale": {"domain": [-1.1724, 14.719], "reverse": true, "nice": false, "zero": false}, "axis": null}}},
    {"data": {"name": "C_labels"}, "mark": {"type": "bar", "orient": "horizontal", "size": 55, "fill": "white", "stroke": "black", "strokeWidth": 5, "cornerRadius": 3},
     "encoding": {"x": {"field": "box_start", "type": "quantitative", "scale": {"domain": [-3.4294, 2.9138], "nice": false, "zero": false}, "axis": null}, "x2": {"field": "box_end"}, "y": {"field": "row", "type": "quantitative", "scale": {"domain": [-1.1724, 14.719], "reverse": true, "nice": false, "zero": false}, "axis": null}}},
    {"data": {"name": "C_labels"}, "transform": [{"filter": "datum.label !== 'pGI3'"}], "mark": {"type": "text", "align": "left", "baseline": "middle", "fontSize": 43, "fontWeight": "bold", "color": "black"},
     "encoding": {"x": {"field": "text_x", "type": "quantitative", "scale": {"domain": [-3.4294, 2.9138], "nice": false, "zero": false}, "axis": null}, "y": {"field": "row", "type": "quantitative", "scale": {"domain": [-1.1724, 14.719], "reverse": true, "nice": false, "zero": false}, "axis": null}, "text": {"field": "label"}}},
    {"data": {"name": "C_labels"}, "transform": [{"filter": "datum.label === 'pGI3'"}], "mark": {"type": "text", "align": "center", "baseline": "middle", "fontSize": 42, "fontWeight": "bold", "color": "black"},
     "encoding": {"x": {"field": "text_x", "type": "quantitative", "scale": {"domain": [-3.4294, 2.9138], "nice": false, "zero": false}, "axis": null}, "y": {"field": "row", "type": "quantitative", "scale": {"domain": [-1.1724, 14.719], "reverse": true, "nice": false, "zero": false}, "axis": null}, "text": {"field": "label"}}},
    {"data": {"name": "C_sites"}, "mark": {"type": "point", "shape": "M-1,-0.385L1,-0.385L1,0.385L-1,0.385Z", "size": 24336, "filled": true, "fill": "#5c5c5c", "stroke": "black", "strokeWidth": 6, "opacity": 1},
     "encoding": {"x": {"field": "site_x", "type": "quantitative", "scale": {"domain": [-3.4294, 2.9138], "nice": false, "zero": false}, "axis": null}, "y": {"field": "row", "type": "quantitative", "scale": {"domain": [-1.1724, 14.719], "reverse": true, "nice": false, "zero": false}, "axis": null}}},
    {"data": {"name": "C_sites"}, "mark": {"type": "text", "align": "center", "baseline": "middle", "fontSize": 31, "fontWeight": "bold", "color": "#111111"},
     "encoding": {"x": {"field": "site_x", "type": "quantitative", "scale": {"domain": [-3.4294, 2.9138], "nice": false, "zero": false}, "axis": null}, "y": {"field": "row", "type": "quantitative", "scale": {"domain": [-1.1724, 14.719], "reverse": true, "nice": false, "zero": false}, "axis": null}, "text": {"field": "site"}}},
    {"data": {"name": "C_sites"}, "mark": {"type": "point", "shape": "M-1,-0.385L1,0.385M-1,0.385L1,-0.385", "size": 24336, "filled": false, "stroke": "black", "strokeWidth": 2, "opacity": 1},
     "encoding": {"x": {"field": "site_x", "type": "quantitative", "scale": {"domain": [-3.4294, 2.9138], "nice": false, "zero": false}, "axis": null}, "y": {"field": "row", "type": "quantitative", "scale": {"domain": [-1.1724, 14.719], "reverse": true, "nice": false, "zero": false}, "axis": null}}},
    {"data": {"values": [{}]}, "mark": {"type": "rule", "strokeWidth": 5, "color": "black"},
     "encoding": {"x": {"datum": 0, "type": "quantitative", "scale": {"domain": [-3.4294, 2.9138], "nice": false, "zero": false}, "axis": null}, "y": {"datum": 0.457, "type": "quantitative", "scale": {"domain": [-1.1724, 14.719], "reverse": true, "nice": false, "zero": false}, "axis": null}, "y2": {"datum": 12.511}}},
    {"data": {"values": [{}]}, "mark": {"type": "rule", "strokeWidth": 5, "color": "black"},
     "encoding": {"x": {"datum": 0, "type": "quantitative", "scale": {"domain": [-3.4294, 2.9138], "nice": false, "zero": false}, "axis": null}, "x2": {"datum": 2.0}, "y": {"datum": 12.511, "type": "quantitative", "scale": {"domain": [-1.1724, 14.719], "reverse": true, "nice": false, "zero": false}, "axis": null}}},
    {"data": {"name": "C_ticks"}, "mark": {"type": "tick", "orient": "vertical", "size": 16, "thickness": 5, "yOffset": 8, "color": "black", "opacity": 1},
     "encoding": {"x": {"field": "tick", "type": "quantitative", "scale": {"domain": [-3.4294, 2.9138], "nice": false, "zero": false}, "axis": null}, "y": {"datum": 12.511, "type": "quantitative", "scale": {"domain": [-1.1724, 14.719], "reverse": true, "nice": false, "zero": false}, "axis": null}}},
    {"data": {"name": "C_ticks"}, "mark": {"type": "text", "align": "center", "baseline": "middle", "dy": 46, "fontSize": 43, "fontWeight": "bold", "color": "black"},
     "encoding": {"x": {"field": "tick", "type": "quantitative", "scale": {"domain": [-3.4294, 2.9138], "nice": false, "zero": false}, "axis": null}, "y": {"datum": 12.511, "type": "quantitative", "scale": {"domain": [-1.1724, 14.719], "reverse": true, "nice": false, "zero": false}, "axis": null}, "text": {"field": "tick", "type": "quantitative", "format": ".1f"}}},
    {"data": {"name": "C_bars"}, "mark": {"type": "bar", "orient": "horizontal", "size": 50, "color": "black"},
     "encoding": {"x": {"field": "value", "type": "quantitative", "stack": null, "scale": {"domain": [-3.4294, 2.9138], "nice": false, "zero": false}, "axis": null}, "y": {"field": "row", "type": "quantitative", "scale": {"domain": [-1.1724, 14.719], "reverse": true, "nice": false, "zero": false}, "axis": null}}},
    {"data": {"name": "C_bars"}, "mark": {"type": "rule", "strokeWidth": 4, "color": "black"},
     "encoding": {"x": {"field": "value", "type": "quantitative", "scale": {"domain": [-3.4294, 2.9138], "nice": false, "zero": false}, "axis": null}, "x2": {"field": "err_upper"}, "y": {"field": "row", "type": "quantitative", "scale": {"domain": [-1.1724, 14.719], "reverse": true, "nice": false, "zero": false}, "axis": null}}},
    {"data": {"name": "C_bars"}, "mark": {"type": "tick", "orient": "vertical", "size": 25, "thickness": 5, "color": "black", "opacity": 1},
     "encoding": {"x": {"field": "err_upper", "type": "quantitative", "scale": {"domain": [-3.4294, 2.9138], "nice": false, "zero": false}, "axis": null}, "y": {"field": "row", "type": "quantitative", "scale": {"domain": [-1.1724, 14.719], "reverse": true, "nice": false, "zero": false}, "axis": null}}},
    {"data": {"name": "C_brackets"}, "mark": {"type": "rule", "strokeWidth": 5, "color": "black", "strokeCap": "square"},
     "encoding": {"x": {"field": "top_start", "type": "quantitative", "scale": {"domain": [-3.4294, 2.9138], "nice": false, "zero": false}, "axis": null}, "x2": {"field": "bracket_x"}, "y": {"field": "top_row", "type": "quantitative", "scale": {"domain": [-1.1724, 14.719], "reverse": true, "nice": false, "zero": false}, "axis": null}}},
    {"data": {"name": "C_brackets"}, "mark": {"type": "rule", "strokeWidth": 5, "color": "black", "strokeCap": "square"},
     "encoding": {"x": {"field": "bracket_x", "type": "quantitative", "scale": {"domain": [-3.4294, 2.9138], "nice": false, "zero": false}, "axis": null}, "y": {"field": "top_row", "type": "quantitative", "scale": {"domain": [-1.1724, 14.719], "reverse": true, "nice": false, "zero": false}, "axis": null}, "y2": {"field": "bottom_row"}}},
    {"data": {"name": "C_brackets"}, "mark": {"type": "rule", "strokeWidth": 5, "color": "black", "strokeCap": "square"},
     "encoding": {"x": {"field": "bottom_start", "type": "quantitative", "scale": {"domain": [-3.4294, 2.9138], "nice": false, "zero": false}, "axis": null}, "x2": {"field": "bracket_x"}, "y": {"field": "bottom_row", "type": "quantitative", "scale": {"domain": [-1.1724, 14.719], "reverse": true, "nice": false, "zero": false}, "axis": null}}},
    {"data": {"name": "C_stars"}, "mark": {"type": "text", "text": "*", "align": "center", "baseline": "alphabetic", "dy": 51, "fontSize": 87, "fontWeight": "bold", "color": "black"},
     "encoding": {"x": {"field": "star_x", "type": "quantitative", "scale": {"domain": [-3.4294, 2.9138], "nice": false, "zero": false}, "axis": null}, "y": {"field": "star_row", "type": "quantitative", "scale": {"domain": [-1.1724, 14.719], "reverse": true, "nice": false, "zero": false}, "axis": null}}},
    {"data": {"name": "C_notes"}, "transform": [{"filter": "datum.kind === 'title'"}], "mark": {"type": "text", "align": "center", "baseline": "middle", "fontSize": 57, "fontWeight": "bold", "color": "black"},
     "encoding": {"x": {"field": "note_x", "type": "quantitative", "scale": {"domain": [-3.4294, 2.9138], "nice": false, "zero": false}, "axis": null}, "y": {"field": "note_row", "type": "quantitative", "scale": {"domain": [-1.1724, 14.719], "reverse": true, "nice": false, "zero": false}, "axis": null}, "text": {"field": "note"}}},
    {"data": {"name": "C_notes"}, "transform": [{"filter": "datum.kind === 'panel'"}], "mark": {"type": "text", "align": "left", "baseline": "middle", "fontSize": 55, "fontWeight": "normal", "color": "black"},
     "encoding": {"x": {"field": "note_x", "type": "quantitative", "scale": {"domain": [-3.4294, 2.9138], "nice": false, "zero": false}, "axis": null}, "y": {"field": "note_row", "type": "quantitative", "scale": {"domain": [-1.1724, 14.719], "reverse": true, "nice": false, "zero": false}, "axis": null}, "text": {"field": "note"}}},
    {"data": {"name": "C_notes"}, "transform": [{"filter": "datum.kind === 'axis title'"}], "mark": {"type": "text", "align": "center", "baseline": "middle", "fontSize": 48, "fontWeight": "bold", "color": "black"},
     "encoding": {"x": {"field": "note_x", "type": "quantitative", "scale": {"domain": [-3.4294, 2.9138], "nice": false, "zero": false}, "axis": null}, "y": {"field": "note_row", "type": "quantitative", "scale": {"domain": [-1.1724, 14.719], "reverse": true, "nice": false, "zero": false}, "axis": null}, "text": {"field": "note"}}}
  ]
},
{
  "width": 2510, "height": 924,
  "layer": [
    {"data": {"name": "D_labels"}, "mark": {"type": "rule", "strokeWidth": 5, "color": "black"},
     "encoding": {"x": {"field": "box_end", "type": "quantitative", "scale": {"domain": [-17.478, 14.335], "nice": false, "zero": false}, "axis": null}, "x2": {"datum": 0}, "y": {"field": "row", "type": "quantitative", "scale": {"domain": [-1.3455, 11.652], "reverse": true, "nice": false, "zero": false}, "axis": null}}},
    {"data": {"name": "D_labels"}, "mark": {"type": "bar", "orient": "horizontal", "size": 63, "fill": "white", "stroke": "black", "strokeWidth": 6, "cornerRadius": 4},
     "encoding": {"x": {"field": "box_start", "type": "quantitative", "scale": {"domain": [-17.478, 14.335], "nice": false, "zero": false}, "axis": null}, "x2": {"field": "box_end"}, "y": {"field": "row", "type": "quantitative", "scale": {"domain": [-1.3455, 11.652], "reverse": true, "nice": false, "zero": false}, "axis": null}}},
    {"data": {"name": "D_labels"}, "transform": [{"filter": "datum.label !== 'pGI3'"}], "mark": {"type": "text", "align": "left", "baseline": "middle", "fontSize": 45, "fontWeight": "bold", "color": "black"},
     "encoding": {"x": {"field": "text_x", "type": "quantitative", "scale": {"domain": [-17.478, 14.335], "nice": false, "zero": false}, "axis": null}, "y": {"field": "row", "type": "quantitative", "scale": {"domain": [-1.3455, 11.652], "reverse": true, "nice": false, "zero": false}, "axis": null}, "text": {"field": "label"}}},
    {"data": {"name": "D_labels"}, "transform": [{"filter": "datum.label === 'pGI3'"}], "mark": {"type": "text", "align": "center", "baseline": "middle", "fontSize": 45, "fontWeight": "bold", "color": "black"},
     "encoding": {"x": {"field": "text_x", "type": "quantitative", "scale": {"domain": [-17.478, 14.335], "nice": false, "zero": false}, "axis": null}, "y": {"field": "row", "type": "quantitative", "scale": {"domain": [-1.3455, 11.652], "reverse": true, "nice": false, "zero": false}, "axis": null}, "text": {"field": "label"}}},
    {"data": {"name": "D_sites"}, "mark": {"type": "point", "shape": "M-1,-0.375L1,-0.375L1,0.375L-1,0.375Z", "size": 25600, "filled": true, "fill": "#5c5c5c", "stroke": "black", "strokeWidth": 6, "opacity": 1},
     "encoding": {"x": {"field": "site_x", "type": "quantitative", "scale": {"domain": [-17.478, 14.335], "nice": false, "zero": false}, "axis": null}, "y": {"field": "row", "type": "quantitative", "scale": {"domain": [-1.3455, 11.652], "reverse": true, "nice": false, "zero": false}, "axis": null}}},
    {"data": {"name": "D_sites"}, "mark": {"type": "text", "align": "center", "baseline": "middle", "fontSize": 31, "fontWeight": "bold", "color": "#111111"},
     "encoding": {"x": {"field": "site_x", "type": "quantitative", "scale": {"domain": [-17.478, 14.335], "nice": false, "zero": false}, "axis": null}, "y": {"field": "row", "type": "quantitative", "scale": {"domain": [-1.3455, 11.652], "reverse": true, "nice": false, "zero": false}, "axis": null}, "text": {"field": "site"}}},
    {"data": {"name": "D_sites"}, "mark": {"type": "point", "shape": "M-1,-0.375L1,0.375M-1,0.375L1,-0.375", "size": 25600, "filled": false, "stroke": "black", "strokeWidth": 2, "opacity": 1},
     "encoding": {"x": {"field": "site_x", "type": "quantitative", "scale": {"domain": [-17.478, 14.335], "nice": false, "zero": false}, "axis": null}, "y": {"field": "row", "type": "quantitative", "scale": {"domain": [-1.3455, 11.652], "reverse": true, "nice": false, "zero": false}, "axis": null}}},
    {"data": {"values": [{}]}, "mark": {"type": "rule", "strokeWidth": 5, "color": "black"},
     "encoding": {"x": {"datum": 0, "type": "quantitative", "scale": {"domain": [-17.478, 14.335], "nice": false, "zero": false}, "axis": null}, "y": {"datum": 0.485, "type": "quantitative", "scale": {"domain": [-1.3455, 11.652], "reverse": true, "nice": false, "zero": false}, "axis": null}, "y2": {"datum": 9.467}}},
    {"data": {"values": [{}]}, "mark": {"type": "rule", "strokeWidth": 5, "color": "black"},
     "encoding": {"x": {"datum": 0, "type": "quantitative", "scale": {"domain": [-17.478, 14.335], "nice": false, "zero": false}, "axis": null}, "x2": {"datum": 10}, "y": {"datum": 9.467, "type": "quantitative", "scale": {"domain": [-1.3455, 11.652], "reverse": true, "nice": false, "zero": false}, "axis": null}}},
    {"data": {"name": "D_ticks"}, "mark": {"type": "tick", "orient": "vertical", "size": 19, "thickness": 5, "yOffset": 9.5, "color": "black", "opacity": 1},
     "encoding": {"x": {"field": "tick", "type": "quantitative", "scale": {"domain": [-17.478, 14.335], "nice": false, "zero": false}, "axis": null}, "y": {"datum": 9.467, "type": "quantitative", "scale": {"domain": [-1.3455, 11.652], "reverse": true, "nice": false, "zero": false}, "axis": null}}},
    {"data": {"name": "D_ticks"}, "mark": {"type": "text", "align": "center", "baseline": "middle", "dy": 48, "fontSize": 43, "fontWeight": "bold", "color": "black"},
     "encoding": {"x": {"field": "tick", "type": "quantitative", "scale": {"domain": [-17.478, 14.335], "nice": false, "zero": false}, "axis": null}, "y": {"datum": 9.467, "type": "quantitative", "scale": {"domain": [-1.3455, 11.652], "reverse": true, "nice": false, "zero": false}, "axis": null}, "text": {"field": "tick", "type": "quantitative", "format": "d"}}},
    {"data": {"name": "D_bars"}, "mark": {"type": "bar", "orient": "horizontal", "size": 54, "color": "black"},
     "encoding": {"x": {"field": "value", "type": "quantitative", "stack": null, "scale": {"domain": [-17.478, 14.335], "nice": false, "zero": false}, "axis": null}, "y": {"field": "row", "type": "quantitative", "scale": {"domain": [-1.3455, 11.652], "reverse": true, "nice": false, "zero": false}, "axis": null}}},
    {"data": {"name": "D_bars"}, "mark": {"type": "rule", "strokeWidth": 5, "color": "black"},
     "encoding": {"x": {"field": "value", "type": "quantitative", "scale": {"domain": [-17.478, 14.335], "nice": false, "zero": false}, "axis": null}, "x2": {"field": "err_upper"}, "y": {"field": "row", "type": "quantitative", "scale": {"domain": [-1.3455, 11.652], "reverse": true, "nice": false, "zero": false}, "axis": null}}},
    {"data": {"name": "D_bars"}, "mark": {"type": "tick", "orient": "vertical", "size": 24, "thickness": 6, "color": "black", "opacity": 1},
     "encoding": {"x": {"field": "err_upper", "type": "quantitative", "scale": {"domain": [-17.478, 14.335], "nice": false, "zero": false}, "axis": null}, "y": {"field": "row", "type": "quantitative", "scale": {"domain": [-1.3455, 11.652], "reverse": true, "nice": false, "zero": false}, "axis": null}}},
    {"data": {"name": "D_brackets"}, "mark": {"type": "rule", "strokeWidth": 5, "color": "black", "strokeCap": "square"},
     "encoding": {"x": {"field": "top_start", "type": "quantitative", "scale": {"domain": [-17.478, 14.335], "nice": false, "zero": false}, "axis": null}, "x2": {"field": "bracket_x"}, "y": {"field": "top_row", "type": "quantitative", "scale": {"domain": [-1.3455, 11.652], "reverse": true, "nice": false, "zero": false}, "axis": null}}},
    {"data": {"name": "D_brackets"}, "mark": {"type": "rule", "strokeWidth": 5, "color": "black", "strokeCap": "square"},
     "encoding": {"x": {"field": "bracket_x", "type": "quantitative", "scale": {"domain": [-17.478, 14.335], "nice": false, "zero": false}, "axis": null}, "y": {"field": "top_row", "type": "quantitative", "scale": {"domain": [-1.3455, 11.652], "reverse": true, "nice": false, "zero": false}, "axis": null}, "y2": {"field": "bottom_row"}}},
    {"data": {"name": "D_brackets"}, "mark": {"type": "rule", "strokeWidth": 5, "color": "black", "strokeCap": "square"},
     "encoding": {"x": {"field": "bottom_start", "type": "quantitative", "scale": {"domain": [-17.478, 14.335], "nice": false, "zero": false}, "axis": null}, "x2": {"field": "bracket_x"}, "y": {"field": "bottom_row", "type": "quantitative", "scale": {"domain": [-1.3455, 11.652], "reverse": true, "nice": false, "zero": false}, "axis": null}}},
    {"data": {"name": "D_stars"}, "mark": {"type": "text", "text": "*", "align": "center", "baseline": "alphabetic", "dy": 51, "fontSize": 87, "fontWeight": "bold", "color": "black"},
     "encoding": {"x": {"field": "star_x", "type": "quantitative", "scale": {"domain": [-17.478, 14.335], "nice": false, "zero": false}, "axis": null}, "y": {"field": "star_row", "type": "quantitative", "scale": {"domain": [-1.3455, 11.652], "reverse": true, "nice": false, "zero": false}, "axis": null}}},
    {"data": {"name": "D_notes"}, "transform": [{"filter": "datum.kind === 'title'"}], "mark": {"type": "text", "align": "center", "baseline": "middle", "fontSize": 59, "fontWeight": "bold", "color": "black"},
     "encoding": {"x": {"field": "note_x", "type": "quantitative", "scale": {"domain": [-17.478, 14.335], "nice": false, "zero": false}, "axis": null}, "y": {"field": "note_row", "type": "quantitative", "scale": {"domain": [-1.3455, 11.652], "reverse": true, "nice": false, "zero": false}, "axis": null}, "text": {"field": "note"}}},
    {"data": {"name": "D_notes"}, "transform": [{"filter": "datum.kind === 'panel'"}], "mark": {"type": "text", "align": "left", "baseline": "middle", "fontSize": 55, "fontWeight": "normal", "color": "black"},
     "encoding": {"x": {"field": "note_x", "type": "quantitative", "scale": {"domain": [-17.478, 14.335], "nice": false, "zero": false}, "axis": null}, "y": {"field": "note_row", "type": "quantitative", "scale": {"domain": [-1.3455, 11.652], "reverse": true, "nice": false, "zero": false}, "axis": null}, "text": {"field": "note"}}},
    {"data": {"name": "D_notes"}, "transform": [{"filter": "datum.kind === 'axis title'"}], "mark": {"type": "text", "align": "center", "baseline": "middle", "fontSize": 49, "fontWeight": "bold", "color": "black"},
     "encoding": {"x": {"field": "note_x", "type": "quantitative", "scale": {"domain": [-17.478, 14.335], "nice": false, "zero": false}, "axis": null}, "y": {"field": "note_row", "type": "quantitative", "scale": {"domain": [-1.3455, 11.652], "reverse": true, "nice": false, "zero": false}, "axis": null}, "text": {"field": "note"}}}
  ]
}
]
}
